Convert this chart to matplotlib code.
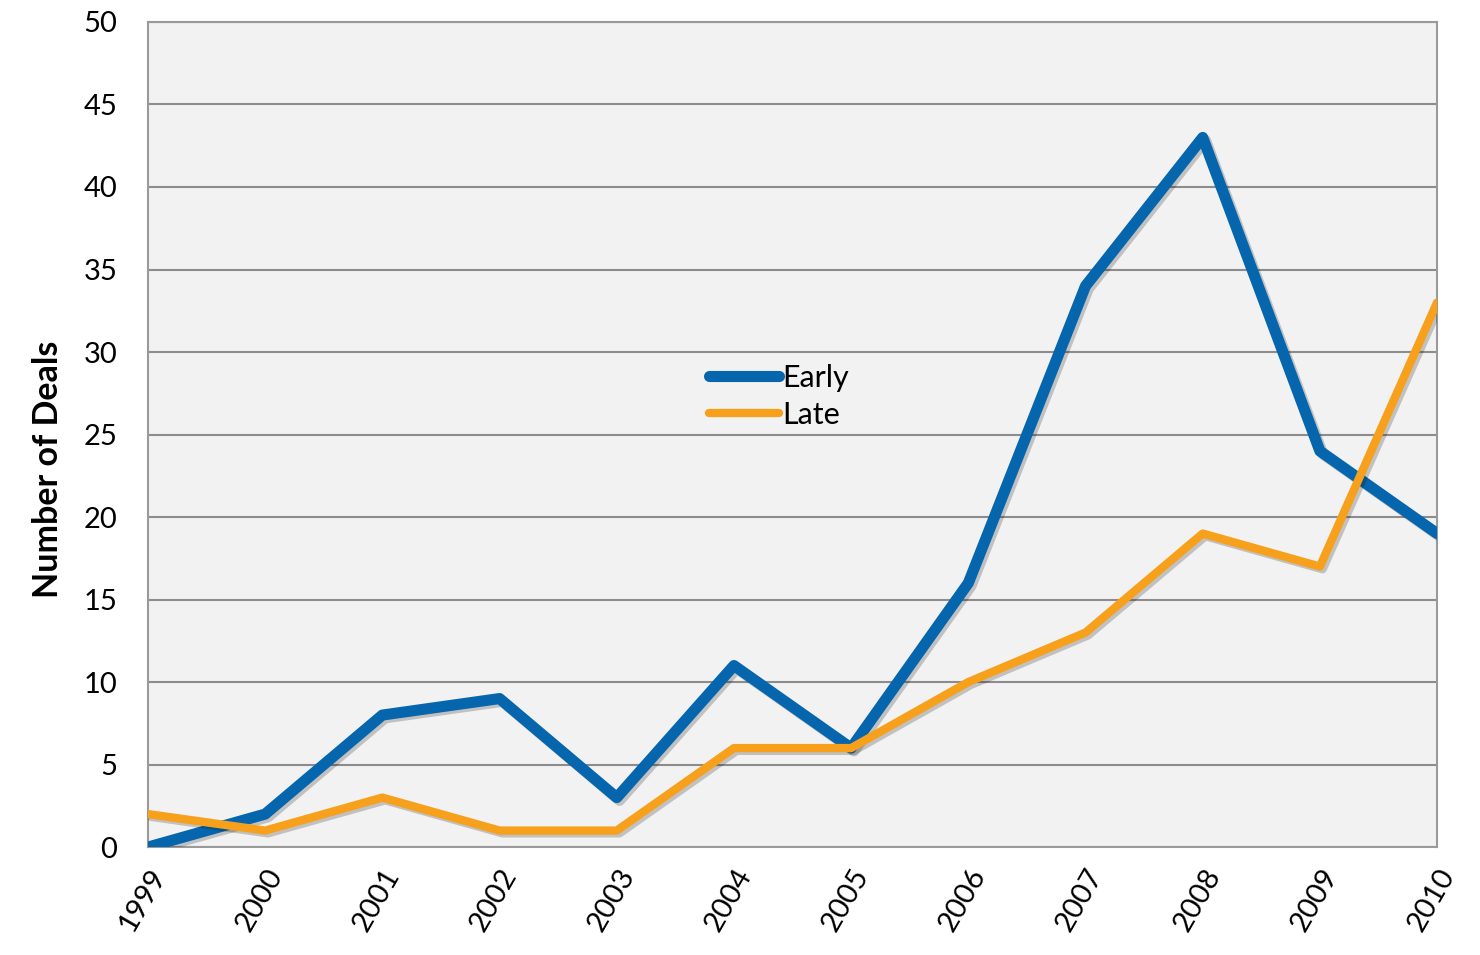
import matplotlib
matplotlib.use("Agg")
import matplotlib.pyplot as plt
import matplotlib.patheffects as pe

years = [1999, 2000, 2001, 2002, 2003, 2004, 2005, 2006, 2007, 2008, 2009, 2010]
early = [0, 2, 8, 9, 3, 11, 6, 16, 34, 43, 24, 19]
late = [2, 1, 3, 1, 1, 6, 6, 10, 13, 19, 17, 33]
year_labels = [str(y) for y in years]
y_ticks = [0, 5, 10, 15, 20, 25, 30, 35, 40, 45, 50]

BLUE = "#0566ae"
ORANGE = "#f7a01c"
GRID = "#8c8c8c"

plt.rcParams["font.family"] = ["Lato", "DejaVu Sans"]

fig = plt.figure(figsize=(14.8, 9.55), dpi=100)
ax = fig.add_axes([0.1, 0.113, 0.871, 0.864])
ax.set_facecolor("#f2f2f2")

shadow = [pe.SimpleLineShadow(offset=(2, -2), shadow_color="#000000", alpha=0.2), pe.Normal()]
ax.plot(range(len(years)), early, color=BLUE, lw=8, solid_joinstyle="round",
        solid_capstyle="round", label="Early", path_effects=shadow, zorder=3)
ax.plot(range(len(years)), late, color=ORANGE, lw=6, solid_joinstyle="round",
        solid_capstyle="round", label="Late", path_effects=shadow, zorder=3)

ax.set_xlim(0, len(years) - 1)
ax.set_ylim(0, 50)
ax.set_yticks(y_ticks)
ax.set_yticklabels([str(v) for v in y_ticks], fontsize=21)
ax.set_xticks(range(len(years)))
ax.set_xticklabels(year_labels, rotation=60, ha="right", rotation_mode="anchor", fontsize=21)
ax.tick_params(length=0)
ax.tick_params(axis="y", pad=22)
ax.tick_params(axis="x", pad=12)

ax.grid(axis="y", color=GRID, lw=1.5)
ax.set_axisbelow(True)
for s in ax.spines.values():
    s.set_color("#9a9a9a")
    s.set_linewidth(1.5)

ax.set_ylabel("Number of Deals", fontsize=24.5, fontweight="bold")
ax.yaxis.set_label_coords(-0.065, 0.458)

leg = ax.legend(loc="upper left", bbox_to_anchor=(0.423, 0.604), frameon=False,
                fontsize=22, handlelength=2.3, handletextpad=0.1, labelspacing=0.3,
                borderpad=0)
for line in leg.get_lines():
    line.set_path_effects([])

fig.savefig("out.png", dpi=100)
